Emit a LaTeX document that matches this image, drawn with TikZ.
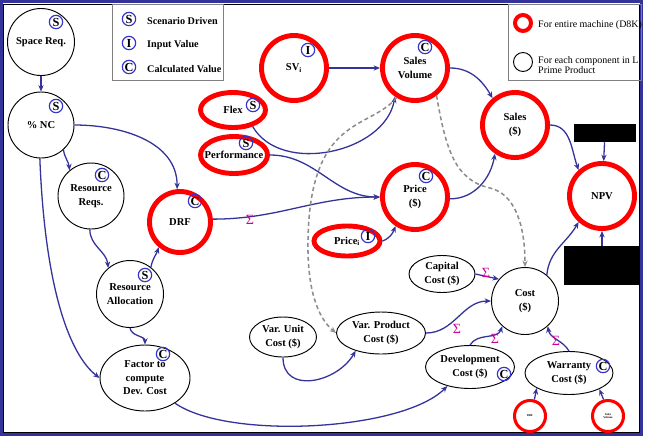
\documentclass[tikz,border=0pt]{standalone}
\usepackage{fontspec}
\setmainfont{Liberation Serif}
\usetikzlibrary{arrows.meta,shapes.geometric}
\definecolor{framenavy}{HTML}{333399}
\definecolor{flowblue}{HTML}{333399}
\definecolor{tagblue}{HTML}{3333CC}
\definecolor{machinered}{HTML}{FF0000}
\definecolor{sumpink}{HTML}{CC0099}
\definecolor{feedgray}{HTML}{8C8C8C}
\definecolor{keygray}{HTML}{808080}

\begin{document}
\begin{tikzpicture}[x=0.03cm, y=-0.03cm, >=Stealth,
  every node/.style={align=center, font=\fontsize{9}{11.5}\selectfont\bfseries},
  comp/.style={circle, draw=black, line width=0.8pt, inner sep=0pt},
  compell/.style={ellipse, draw=black, line width=0.8pt, inner sep=0pt},
  mach/.style={circle, draw=machinered, line width=4.2pt, inner sep=0pt},
  machell/.style={ellipse, draw=machinered, line width=4.2pt, inner sep=0pt},
  minimach/.style={circle, draw=machinered, line width=2.6pt, inner sep=0pt,
    minimum size=0.93cm, font=\fontsize{2.5}{3}\selectfont\bfseries},
  tagring/.style={circle, draw=tagblue, line width=1pt, minimum size=0.4cm,
    inner sep=0pt, font=\fontsize{10.5}{10.5}\selectfont\bfseries},
  flow/.style={-{Stealth[length=5.5pt,width=4.5pt]}, draw=flowblue, line width=1.1pt},
  feed/.style={-{Stealth[length=5.5pt,width=4.5pt]}, draw=feedgray, line width=1.3pt,
    dash pattern=on 3.5pt off 2.5pt},
  sumsign/.style={text=sumpink, font=\fontsize{12}{12}\selectfont, inner sep=0pt},
  hidden/.style={fill=black, inner sep=0pt},
  keytext/.style={anchor=west, inner sep=0pt, font=\fontsize{8.7}{9.5}\selectfont\bfseries},
  keynote/.style={anchor=west, inner sep=0pt, align=left, font=\fontsize{8.5}{9}\selectfont}]

%%=== COORDINATE PLAN (px of the 651 x 436 sheet, y down) ============
%%  1 unit = 0.03cm ; frame = (0,0) .. (651,436)
%%  left column : Space Req. x=41 · % NC · Resource nodes · Factor
%%  middle      : SV_i / Flex / Performance / Price_i / Var. costs
%%  right       : Sales Volume · Price · Sales · NPV · Cost block
%%====================================================================
\useasboundingbox (0,0) rectangle (651,436);

%% --- Frame ---------------------------------------------------------
\fill[white] (0,0) rectangle (651,436);
\draw[framenavy, line width=2.6pt] (1.5,1.5) rectangle (641.5,434.5);
\draw[black, line width=0.4pt] (3.6,3.8) rectangle (639.4,431.8);

%% --- Legends -------------------------------------------------------
\draw[keygray, line width=0.6pt] (112,4) rectangle (223,80);
\node[tagring] (key-s) at (129,19) {S};
\node[tagring] (key-i) at (129,43) {I};
\node[tagring] (key-c) at (129,67) {C};
\node[keytext] (key-s-txt) at (147,21) {Scenario Driven};
\node[keytext] (key-i-txt) at (147,45) {Input Value};
\node[keytext] (key-c-txt) at (147,69) {Calculated Value};

\draw[keygray, line width=0.6pt] (508,4) rectangle (641,80);
\node[circle, draw=machinered, line width=3.4pt, minimum size=0.48cm,
      inner sep=0pt] (key-mach) at (523,23) {};
\node[circle, draw=black, line width=0.8pt, minimum size=0.57cm,
      inner sep=0pt] (key-comp) at (523,62) {};
\node[keynote] (key-mach-txt) at (538,25) {For entire machine (D8K)};
\node[keynote] (key-comp-txt) at (538,65) {For each component in L\\Prime Product};

%% --- Component nodes (thin black) ----------------------------------
\node[comp, minimum size=2.01cm] (space) at (41,42) {Space Req.};
\node[comp, minimum size=1.98cm] (nc) at (41,125) {\% NC};
\node[comp, minimum size=1.98cm] (rreq) at (91,196) {Resource\\Reqs.};
\node[comp, minimum size=2.01cm] (ralloc) at (130,294) {Resource\\Allocation};
\node[compell, minimum width=2.7cm, minimum height=1.98cm]
  (factor) at (145,378) {Factor to\\compute\\Dev. Cost};
\node[compell, minimum width=1.98cm, minimum height=1.11cm]
  (capital) at (442,274) {Capital\\Cost (\$)};
\node[comp, minimum size=2.01cm] (cost) at (525,301) {Cost\\(\$)};
\node[compell, minimum width=2.01cm, minimum height=1.2cm]
  (varunit) at (283,337) {Var. Unit\\Cost (\$)};
\node[compell, minimum width=2.67cm, minimum height=1.26cm]
  (varprod) at (381,333) {Var. Product\\Cost (\$)};
\node[compell, minimum width=2.67cm, minimum height=1.29cm]
  (devcost) at (470,367) {Development\\Cost (\$)};
\node[compell, minimum width=2.64cm, minimum height=1.29cm]
  (warranty) at (569,373) {Warranty\\Cost (\$)};

%% --- Machine nodes (thick red) -------------------------------------
\node[mach, minimum size=1.83cm] (drf) at (180,222) {DRF};
\node[mach, minimum size=1.95cm] (svi) at (294,68) {SV\textsubscript{i}};
\node[mach, minimum size=1.95cm] (salesvol) at (415,68) {Sales\\Volume};
\node[machell, minimum width=1.95cm, minimum height=1.05cm]
  (flex) at (233,110) {Flex};
\node[machell, minimum width=2.01cm, minimum height=1.11cm, inner xsep=-0.22cm]
  (perf) at (234,155) {Performance};
\node[mach, minimum size=1.95cm] (price) at (415,197) {Price\\(\$)};
\node[machell, minimum width=1.98cm, minimum height=0.9cm]
  (pricei) at (347,241) {Price\textsubscript{i}};
\node[mach, minimum size=1.95cm] (sales) at (515,125) {Sales\\(\$)};
\node[mach, minimum size=1.95cm] (npv) at (602,196) {NPV};
\node[minimach] (wdrf) at (530,416) {DRF};
\node[minimach] (wsv) at (608,416) {Sales\\Volume};

%% --- Blacked-out boxes ---------------------------------------------
\node[hidden, minimum width=1.86cm, minimum height=0.54cm] (hidtop) at (605,133) {};
\node[hidden, minimum width=2.28cm, minimum height=1.17cm] (hidbot) at (602,265.5) {};

%% --- Type tags -----------------------------------------------------
\node[tagring] (space-tag) at (56,22) {S};
\node[tagring] (nc-tag) at (56,106) {S};
\node[tagring] (rreq-tag) at (102,175) {C};
\node[tagring] (drf-tag) at (195,201) {C};
\node[tagring] (ralloc-tag) at (145,275) {S};
\node[tagring] (factor-tag) at (163,354) {C};
\node[tagring] (svi-tag) at (308,50) {I};
\node[tagring] (salesvol-tag) at (425,47) {C};
\node[tagring] (flex-tag) at (253,105) {S};
\node[tagring] (perf-tag) at (246,143) {S};
\node[tagring] (price-tag) at (426,176) {C};
\node[tagring] (pricei-tag) at (368,236) {I};
\node[tagring] (devcost-tag) at (504,374) {C};
\node[tagring] (warranty-tag) at (603,366) {C};

%% --- Flows ---------------------------------------------------------
\draw[flow] (space) -- (nc);
\draw[flow] (nc.east) to[out=0, in=90] (drf.95);
\draw[flow] (nc.-48) to[out=-80, in=95] (rreq.130);
\draw[flow] (nc.-92) .. controls (45,290) and (70,355) .. (factor.west);
\draw[flow] (rreq.-92) to[out=-90, in=95] (ralloc.130);
\draw[flow] (ralloc.52) to[out=80, in=250] (drf.230);
\draw[flow] (ralloc.south) to[out=-80, in=90] (factor.north);
\draw[flow] (drf.5) to[out=0, in=180] (price.west);
\draw[flow] (perf.east) to[out=0, in=180] (price.west);
\draw[flow] (flex.-40) to[out=-60, in=-100] (salesvol.235);
\draw[flow] (svi) -- (salesvol);
\draw[flow] (salesvol.east) to[out=0, in=120] (sales.130);
\draw[flow] (price.-3) to[out=0, in=-100] (sales.235);
\draw[flow] (pricei.east) to[out=20, in=250] (price.236);
\draw[flow] (sales.east) to[out=0, in=110] (npv.132);
\draw[flow] (hidtop) -- (npv);
\draw[flow] (hidbot) -- (npv);
\draw[flow] (cost.50) to[out=85, in=240] (npv.228);
\draw[flow] (capital.east) -- (cost.140);
\draw[flow] (varprod.east) to[out=0, in=180] (cost.west);
\draw[flow] (varunit.south) to[out=-90, in=240, looseness=1.3] (varprod.215);
\draw[flow] (factor.-40) to[out=-35, in=225, looseness=0.6] (devcost.220);
\draw[flow] (devcost.north) to[out=60, in=250] (cost.228);
\draw[flow] (warranty.north) to[out=120, in=-80] (cost.-48);
\draw[flow] (wdrf.75) -- (warranty.205);
\draw[flow] (wsv.105) -- (warranty.-28);

%% --- Volume feed-through (dashed) ----------------------------------
\draw[feed] (salesvol.238) .. controls (370,130) and (310,115) .. (308,240)
  .. controls (307,290) and (318,318) .. (varprod.west);
\draw[feed] (salesvol.-52) .. controls (446,150) and (455,180) .. (490,188)
  .. controls (515,194) and (525,225) .. (cost.north);

%% --- Summation marks -----------------------------------------------
\node[sumsign] (sum-drf) at (250,220) {Σ};
\node[sumsign] (sum-cap) at (486,273) {Σ};
\node[sumsign] (sum-var) at (457,329) {Σ};
\node[sumsign] (sum-dev) at (495,339) {Σ};
\node[sumsign] (sum-war) at (556,341) {Σ};

\end{tikzpicture}
\end{document}
